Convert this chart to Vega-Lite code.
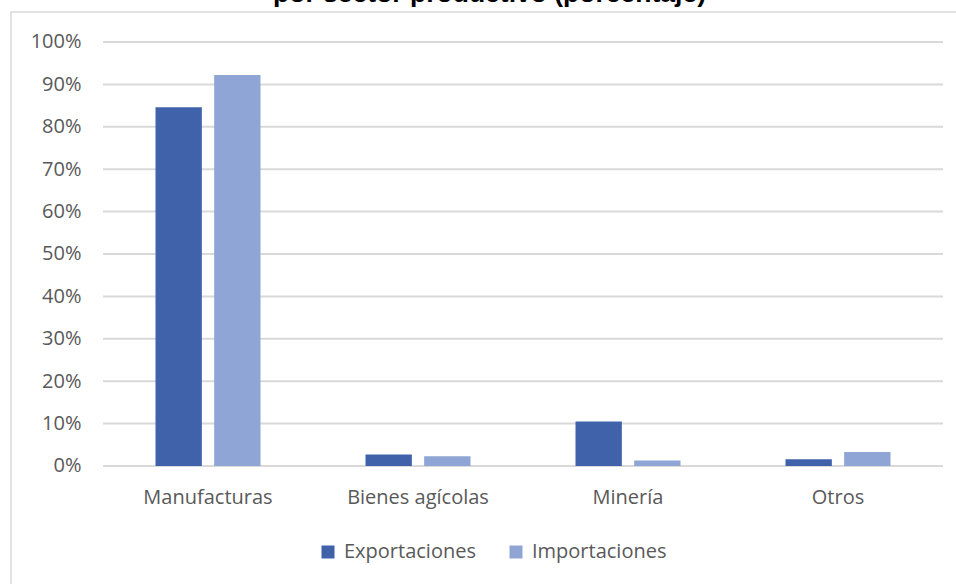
{
  "$schema": "https://vega.github.io/schema/vega-lite/v6.json",
  "autosize": "none",
  "width": 947,
  "height": 574,
  "padding": {"left": 11, "top": 12, "right": -2, "bottom": -2},
  "background": "white",
  "title": {
    "text": "por sector productivo (porcentaje)",
    "font": "Liberation Sans",
    "fontSize": 26.5,
    "fontWeight": "bold",
    "color": "#000000",
    "anchor": "middle",
    "offset": 0,
    "dx": 5,
    "dy": -5
  },
  "datasets": {
    "comercio": [
      {"sector": "Manufacturas", "flujo": "Exportaciones", "valor": 0.846},
      {"sector": "Manufacturas", "flujo": "Importaciones", "valor": 0.922},
      {"sector": "Bienes agícolas", "flujo": "Exportaciones", "valor": 0.027},
      {"sector": "Bienes agícolas", "flujo": "Importaciones", "valor": 0.023},
      {"sector": "Minería", "flujo": "Exportaciones", "valor": 0.105},
      {"sector": "Minería", "flujo": "Importaciones", "valor": 0.013},
      {"sector": "Otros", "flujo": "Exportaciones", "valor": 0.016},
      {"sector": "Otros", "flujo": "Importaciones", "valor": 0.033}
    ],
    "rejilla": [
      {"v": 0}, {"v": 0.1}, {"v": 0.2}, {"v": 0.3}, {"v": 0.4}, {"v": 0.5},
      {"v": 0.6}, {"v": 0.7}, {"v": 0.8}, {"v": 0.9}, {"v": 1}
    ]
  },
  "layer": [
    {
      "data": {"name": "rejilla"},
      "mark": {"type": "rule", "color": "#D9D9D9", "strokeWidth": 2},
      "encoding": {
        "y": {
          "field": "v",
          "type": "quantitative",
          "scale": {"domain": [-0.28302, 1.07075], "nice": false, "zero": false},
          "axis": {
            "title": null,
            "values": [0, 0.1, 0.2, 0.3, 0.4, 0.5, 0.6, 0.7, 0.8, 0.9, 1],
            "format": ".0%",
            "grid": false,
            "domain": false,
            "ticks": false,
            "offset": -78,
            "labelPadding": 8,
            "labelFont": "Open Sans",
            "labelFontSize": 20,
            "labelColor": "#595959"
          }
        },
        "x": {"datum": "Manufacturas", "type": "nominal", "bandPosition": -0.5},
        "x2": {"datum": "Otros", "bandPosition": 1.5}
      }
    },
    {
      "data": {"name": "comercio"},
      "mark": {"type": "bar"},
      "encoding": {
        "x": {
          "field": "sector",
          "type": "nominal",
          "sort": ["Manufacturas", "Bienes agícolas", "Minería", "Otros"],
          "scale": {"paddingInner": 0.5, "paddingOuter": 0.5048, "align": 0.6816},
          "axis": {
            "title": null,
            "orient": "bottom",
            "offset": -93,
            "labelPadding": 4,
            "labelAngle": 0,
            "labelAlign": "center",
            "bandPosition": 0.5,
            "domain": false,
            "ticks": false,
            "labelFont": "Open Sans",
            "labelFontSize": 20,
            "labelColor": "#595959"
          }
        },
        "xOffset": {
          "field": "flujo",
          "type": "nominal",
          "scale": {"paddingInner": 0.21, "paddingOuter": 0}
        },
        "y": {
          "field": "valor",
          "type": "quantitative",
          "axis": {
            "title": null,
            "values": [0, 0.1, 0.2, 0.3, 0.4, 0.5, 0.6, 0.7, 0.8, 0.9, 1],
            "format": ".0%",
            "grid": false,
            "domain": false,
            "ticks": false,
            "offset": -78,
            "labelPadding": 8,
            "labelFont": "Open Sans",
            "labelFontSize": 20,
            "labelColor": "#595959"
          }
        },
        "y2": {"datum": 0},
        "color": {
          "field": "flujo",
          "type": "nominal",
          "scale": {"domain": ["Exportaciones", "Importaciones"], "range": ["#3F62AA", "#8EA5D5"]},
          "legend": {
            "title": null,
            "orient": "none",
            "direction": "horizontal",
            "legendX": 307,
            "legendY": 530,
            "symbolType": "square",
            "symbolSize": 169,
            "symbolStrokeWidth": 0,
            "labelFont": "Open Sans",
            "labelFontSize": 20,
            "labelColor": "#595959",
            "labelOffset": 6,
            "columnPadding": 30
          }
        }
      }
    }
  ],
  "config": {
    "view": {"stroke": "#D9D9D9", "strokeWidth": 1.5}
  }
}
